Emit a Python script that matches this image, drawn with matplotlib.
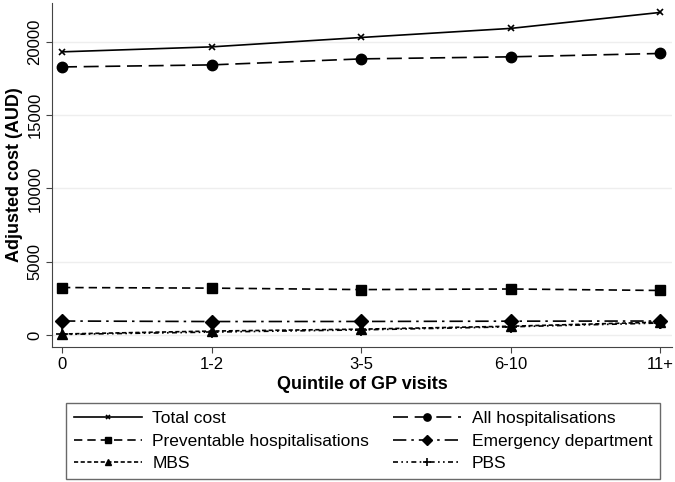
import matplotlib.pyplot as plt

plt.rcParams['font.family'] = ['Liberation Sans', 'DejaVu Sans']

quintiles = ["0", "1-2", "3-5", "6-10", "11+"]
total_cost = [19320, 19660, 20300, 20920, 22010]
all_hosp = [18290, 18430, 18840, 18980, 19210]
preventable = [3240, 3200, 3100, 3140, 3040]
emergency = [955, 920, 925, 945, 955]
mbs = [70, 270, 400, 600, 880]
pbs = [40, 200, 350, 560, 820]

x = list(range(len(quintiles)))

fig = plt.figure(figsize=(6.75, 4.82), dpi=100)
ax = fig.add_axes([0.077, 0.28, 0.919, 0.714])

ax.plot(x, total_cost, color="black", lw=1.2, ls="-", marker="x", ms=4, mew=1.2,
        label="Total cost")
ax.plot(x, all_hosp, color="black", lw=1.2, ls=(0, (9, 4)), marker="o", ms=7.5,
        label="All hospitalisations")
ax.plot(x, preventable, color="black", lw=1.2, ls=(0, (5, 3)), marker="s", ms=7,
        label="Preventable hospitalisations")
ax.plot(x, emergency, color="black", lw=1.2, ls=(0, (8, 3, 1.5, 3)), marker="D", ms=7,
        label="Emergency department")
ax.plot(x, mbs, color="black", lw=1.2, ls=(0, (2.5, 1.5)), marker="^", ms=7,
        label="MBS")
ax.plot(x, pbs, color="black", lw=1.2, ls=(0, (3, 2, 1, 2, 1, 2)), marker="+", ms=8, mew=1.2,
        label="PBS")

ax.set_xlim(-0.067, 4.08)
ax.set_ylim(-820, 22660)
ax.set_xticks(x)
ax.set_xticklabels(quintiles)
ax.set_yticks([0, 5000, 10000, 15000, 20000])
ax.set_yticklabels(["0", "5000", "10000", "15000", "20000"], rotation=90, va="center")
ax.tick_params(labelsize=12, length=4, color="#444444", pad=3)
ax.grid(axis="y", color="#eeeeee", lw=1)
ax.set_axisbelow(True)
for s in ["top", "right"]:
    ax.spines[s].set_visible(False)
for s in ["left", "bottom"]:
    ax.spines[s].set_color("#444444")

ax.set_xlabel("Quintile of GP visits", fontsize=13, fontweight="bold", labelpad=3)
ax.set_ylabel("Adjusted cost (AUD)", fontsize=13, fontweight="bold", labelpad=3)

h, l = ax.get_legend_handles_labels()
order = [0, 2, 4, 1, 3, 5]
leg = fig.legend([h[i] for i in order], [l[i] for i in order], ncol=2,
                 loc="center", bbox_to_anchor=(0.538, 0.085), fontsize=12.5,
                 frameon=True, fancybox=False, edgecolor="#444444",
                 handlelength=3.9, handletextpad=0.6, columnspacing=1.4,
                 labelspacing=0.42, borderpad=0.45, markerscale=0.7)
leg.get_frame().set_linewidth(1)

fig.savefig("out.png", dpi=100)
